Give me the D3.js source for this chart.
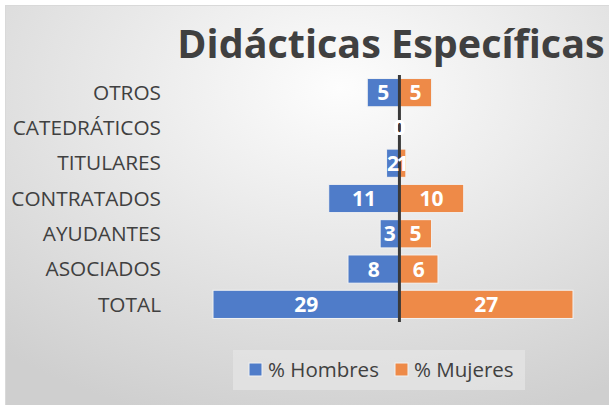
<!DOCTYPE html>
<html lang="es">
<head>
  <meta charset="UTF-8">
  <script src="https://d3js.org/d3.v7.min.js"></script>
  <title>Didácticas Específicas</title>
  <style>
    body { margin: 0; background: #fff; }
    svg { display: block; font-family: "Open Sans", "Noto Sans", sans-serif; }
  </style>
</head>
<body>
  <svg width="609" height="405"></svg>

  <script>
    // datos
    var categories = ["OTROS", "CATEDRÁTICOS", "TITULARES", "CONTRATADOS", "AYUDANTES", "ASOCIADOS", "TOTAL"];
    var hombres = [5, 0, 2, 11, 3, 8, 29];
    var mujeres = [5, 0, 1, 10, 5, 6, 27];
    var seriesNames = ["% Hombres", "% Mujeres"];
    var colors = ["#4f7cc9", "#ee8a48"];

    var svg = d3.select("svg");

    // fondo con degradado
    var defs = svg.append("defs");
    var grad = defs.append("radialGradient")
      .attr("id", "bg")
      .attr("cx", "55%").attr("cy", "20%").attr("r", "85%");
    grad.append("stop").attr("offset", "0%").attr("stop-color", "#fdfdfd");
    grad.append("stop").attr("offset", "100%").attr("stop-color", "#cfcfcf");

    svg.append("rect")
      .attr("x", 5.5).attr("y", 5.5)
      .attr("width", 610).attr("height", 410)
      .attr("fill", "url(#bg)")
      .attr("stroke", "#d9d9d9");

    // título
    svg.append("text")
      .attr("x", 391).attr("y", 58)
      .attr("text-anchor", "middle")
      .attr("font-size", 39.5)
      .attr("font-weight", "bold")
      .attr("fill", "#404040")
      .text("Didácticas Específicas");

    // escalas
    var x = d3.scaleLinear().domain([-29, 27]).range([213, 573]);
    var y = d3.scaleBand().domain(categories).range([75, 322]).paddingInner(0.2).paddingOuter(0.1);

    var rows = categories.map(function(c, i) {
      return { cat: c, h: hombres[i], m: mujeres[i] };
    });

    var g = svg.append("g");

    // barras hombres
    g.selectAll(".bh").data(rows).enter().append("rect")
      .attr("x", function(d) { return x(-d.h); })
      .attr("y", function(d) { return y(d.cat); })
      .attr("width", function(d) { return x(0) - x(-d.h); })
      .attr("height", y.bandwidth())
      .attr("fill", colors[0])
      .attr("stroke", function(d) { return d.h ? "#f2f2f2" : "none"; })
      .attr("stroke-width", 1);

    // barras mujeres
    g.selectAll(".bm").data(rows).enter().append("rect")
      .attr("x", x(0))
      .attr("y", function(d) { return y(d.cat); })
      .attr("width", function(d) { return x(d.m) - x(0); })
      .attr("height", y.bandwidth())
      .attr("fill", colors[1])
      .attr("stroke", function(d) { return d.m ? "#f2f2f2" : "none"; })
      .attr("stroke-width", 1);

    // eje vertical
    g.append("line")
      .attr("x1", x(0)).attr("x2", x(0))
      .attr("y1", 75).attr("y2", 322)
      .attr("stroke", "#3a3a3a")
      .attr("stroke-width", 3);

    // etiquetas de categoría
    var yAxis = d3.axisLeft(y).tickSize(0).tickPadding(0);
    var ya = svg.append("g").attr("transform", "translate(161,0)").call(yAxis);
    ya.attr("font-size", null).attr("font-family", null);
    ya.select(".domain").remove();
    ya.selectAll("text")
      .attr("font-size", 20.8)
      .attr("fill", "#404040")
      .attr("dy", "0.35em");

    // valores
    g.selectAll(".lh").data(rows).enter().append("text")
      .attr("x", function(d) { return (x(-d.h) + x(0)) / 2; })
      .attr("y", function(d) { return y(d.cat) + y.bandwidth() / 2; })
      .attr("dy", "0.36em")
      .attr("text-anchor", "middle")
      .attr("font-size", 21)
      .attr("font-weight", "bold")
      .attr("fill", "#fff")
      .text(function(d) { return d.h; });

    g.selectAll(".lm").data(rows).enter().append("text")
      .attr("x", function(d) { return (x(d.m) + x(0)) / 2; })
      .attr("y", function(d) { return y(d.cat) + y.bandwidth() / 2; })
      .attr("dy", "0.36em")
      .attr("text-anchor", "middle")
      .attr("font-size", 21)
      .attr("font-weight", "bold")
      .attr("fill", "#fff")
      .text(function(d) { return d.m; });

    // leyenda
    var lg = svg.append("g");
    lg.append("rect")
      .attr("x", 233).attr("y", 350)
      .attr("width", 292).attr("height", 40)
      .attr("fill", "#e4e4e4")
      .attr("opacity", 0.8);
    var legX = [249, 395];
    seriesNames.forEach(function(n, i) {
      lg.append("rect")
        .attr("x", legX[i]).attr("y", 363)
        .attr("width", 13).attr("height", 13)
        .attr("fill", colors[i])
        .attr("stroke", "#f2f2f2");
      lg.append("text")
        .attr("x", legX[i] + 19).attr("y", 377)
        .attr("font-size", 20.5)
        .attr("fill", "#404040")
        .text(n);
    });
  </script>
</body>
</html>
